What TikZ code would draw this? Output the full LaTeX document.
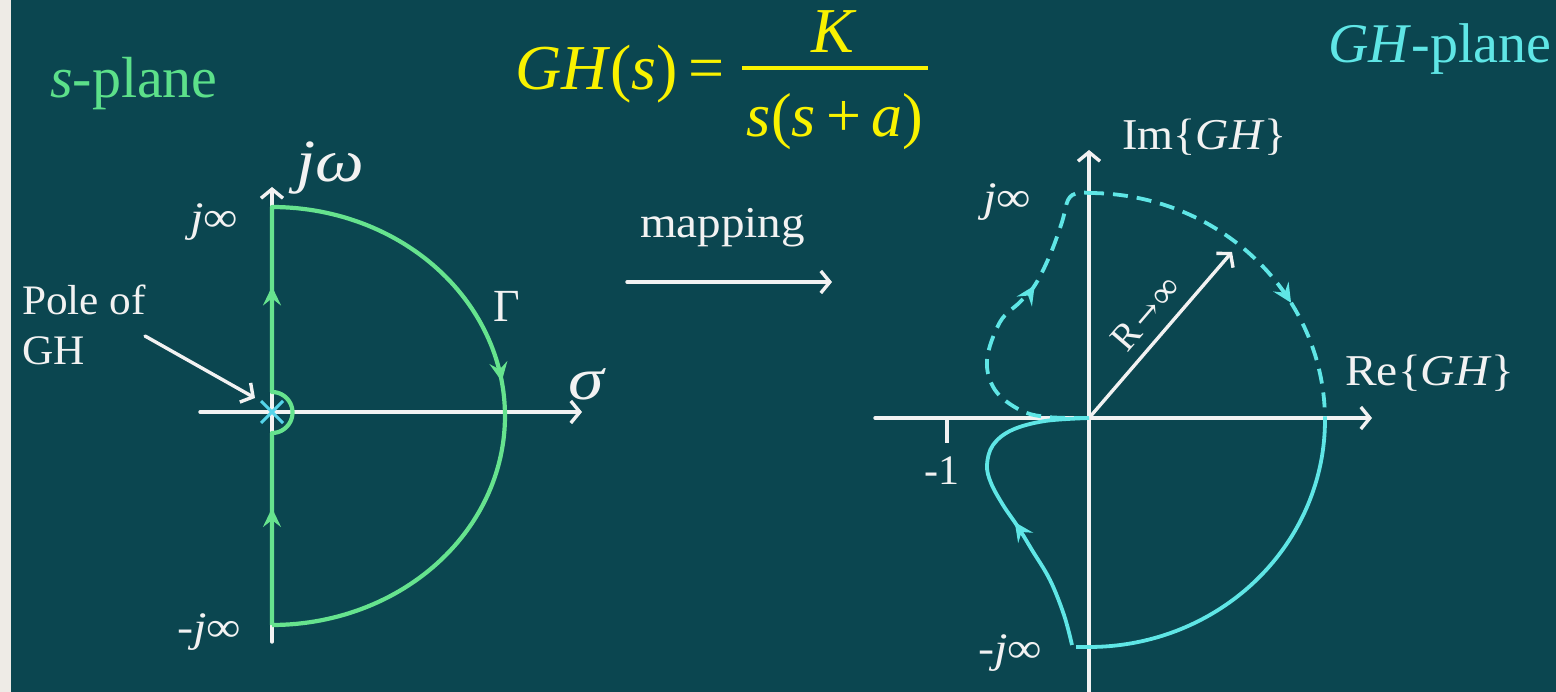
\documentclass[tikz,border=0pt]{standalone}
\usepackage{fontspec}
\setmainfont{Liberation Serif}
\newfontfamily\arrowfont{DejaVu Serif}
\usetikzlibrary{arrows.meta,decorations.markings}
\definecolor{bgc}{HTML}{0B4650}
\definecolor{edgec}{HTML}{EEEBE6}
\definecolor{greenc}{HTML}{66E38E}
\definecolor{gtext}{HTML}{5CE08A}
\definecolor{cyanc}{HTML}{5FE6E6}
\definecolor{crossc}{HTML}{55D5EA}
\definecolor{yellowc}{HTML}{F9F200}
\definecolor{whitec}{HTML}{F2F2F2}
\newcommand{\fs}[1]{\fontsize{#1}{#1}\selectfont}
\newcommand{\hs}[2]{\scalebox{#1}[1]{#2}}
\tikzset{
  axisline/.style={draw=whitec, line width=3.4pt, line cap=round,
    -{Straight Barb[length=9pt,width=22pt,line width=3.4pt]}},
  plainline/.style={draw=whitec, line width=3.4pt},
  gpath/.style={draw=greenc, line width=4.2pt, line join=round},
  cpath/.style={draw=cyanc, line width=3.8pt, line join=round},
  cdash/.style={cpath, dash pattern=on 15pt off 9pt},
  gmarkat/.style={postaction={decorate,decoration={markings,
    mark=at position #1 with {\arrow[greenc]{Stealth[length=19pt,width=18pt,inset=7pt]}}}}},
  cmarkat/.style={postaction={decorate,decoration={markings,
    mark=at position #1 with {\arrow[cyanc]{Stealth[length=19pt,width=18pt,inset=7pt]}}}}},
  lbl/.style={inner sep=0pt, text=whitec},
}
\begin{document}
\begin{tikzpicture}[x=1pt,y=-1pt]
\useasboundingbox (0,0) rectangle (1556,692);
\fill[edgec] (0,0) rectangle (11,692);
\fill[bgc] (11,0) rectangle (1556,692);

% ---------- titles ----------
\node[lbl, anchor=base west, text=gtext] (splane) at (50,98) {\fs{58}\textit{s}-plane};
\node[lbl, anchor=base west, text=cyanc] (ghplane) at (1328,63) {\fs{56}\textit{GH}-plane};

% formula
\node[lbl, anchor=base west, text=yellowc] (ghs) at (515,90) {\fs{64}\textit{GH}(\textit{s})\,=};
\coordinate (barL) at (742,68);
\coordinate (barR) at (928,68);
\draw[yellowc, line width=4pt] (barL) -- (barR);
\node[lbl, anchor=base, text=yellowc] (num) at (834,53) {\fs{64}\textit{K}};
\node[lbl, anchor=base, text=yellowc] (den) at (835,137) {\fs{62}\textit{s}(\textit{s}\,+\,\textit{a})};

% mapping
\node[lbl, anchor=base west] (mapping) at (640,238) {\fs{44}\hs{1.07}{mapping}};
\coordinate (mapL) at (627,282);
\coordinate (mapR) at (832,282);
\draw[axisline] (mapL) -- (mapR);

% ---------- s-plane ----------
\coordinate (O1) at (272,412);
\coordinate (jwbot) at (272,642);
\coordinate (jwtop) at (272,187);
\coordinate (sigL) at (200,412);
\coordinate (sigR) at (582,412);
\draw[axisline] (sigL) -- (sigR);
\draw[axisline] (jwbot) -- (jwtop);

% Nyquist contour
\draw[gpath, gmarkat=117pt, gmarkat=362pt, gmarkat=754pt]
  (272,625) -- (272,433)
  -- plot[domain=90:-90, samples=40] ({272+20.5*cos(\x)},{412.5+20.5*sin(\x)})
  -- (272,207)
  -- plot[domain=-90:90, samples=120] ({272+233*cos(\x)},{416+209*sin(\x)});

% pole cross
\draw[crossc, line width=3pt] (261,401) -- (283,423) (261,423) -- (283,401);

\node[lbl, anchor=base west] (jw) at (296,182) {\fs{60}\hs{1.15}{\textit{jω}}};
\node[lbl, anchor=base west] (jinf1) at (190,232) {\fs{42}\hs{1.15}{\textit{j}∞}};
\node[lbl, anchor=base west] (mjinf1) at (177,641) {\fs{42}\hs{1.15}{-\textit{j}∞}};
\node[lbl, anchor=base west] (gamma) at (493,322) {\fs{46}Γ};
\node[lbl, anchor=base west] (sigma) at (568,400) {\fs{60}\hs{1.2}{\textit{σ}}};

\node[lbl, anchor=base west] (pole1) at (22,315) {\fs{42}\hs{1.03}{Pole of}};
\node[lbl, anchor=base west] (pole2) at (22,365) {\fs{42}\hs{1.03}{GH}};
\coordinate (poleA) at (145,336);
\coordinate (poleB) at (255,398);
\draw[axisline] (poleA) -- (poleB);

% ---------- GH-plane ----------
\coordinate (O2) at (1089,418);
\coordinate (reL) at (875,418);
\coordinate (reR) at (1372,418);
\coordinate (imB) at (1089,692);
\coordinate (imT) at (1089,150);
\draw[axisline] (reL) -- (reR);
\draw[axisline] (imB) -- (imT);
\coordinate (tickA) at (947,418);
\coordinate (tickB) at (947,443);
\draw[plainline] (tickA) -- (tickB);
\node[lbl, anchor=base] (m1) at (942,484) {\fs{42}-1};

\coordinate (Rtip) at (1232,252);
\draw[axisline] (O2) -- (Rtip);
\node[lbl, rotate=49.3] (Rinf) at (1146,313) {\fs{38}R\hspace{3pt}{\arrowfont\fontsize{32}{32}\selectfont →}\hspace{3pt}∞};

\node[lbl, anchor=base west] (im) at (1122,150) {\fs{44}\hs{1.05}{Im\{\textit{GH}\}}};
\node[lbl, anchor=base west] (re) at (1345,386) {\fs{44}\hs{1.08}{Re\{\textit{GH}\}}};
\node[lbl, anchor=base west] (jinf2) at (983,212) {\fs{42}\hs{1.15}{\textit{j}∞}};
\node[lbl, anchor=base west] (mjinf2) at (978,662) {\fs{42}\hs{1.15}{-\textit{j}∞}};

% dashed upper branch
\draw[cdash, cmarkat=0.66]
  plot[smooth, tension=0.6] coordinates {(1089,418) (1047,417) (1020,410) (995,390) (987,360) (1000,322) (1020,302) (1035,285) (1050,255) (1062,222) (1068,200) (1077,193) (1089,193)};
\draw[cdash, cmarkat=0.66]
  plot[domain=-90:0, samples=80] ({1089+236*cos(\x)},{420+227*sin(\x)});

% solid lower branch
\draw[cpath, cmarkat=0.42]
  plot[smooth, tension=0.6] coordinates {(1072,645) (1064,615) (1050,580) (1032,550) (1018,527) (1003,505) (991,483) (987,465) (993,445) (1012,430) (1045,421) (1089,418)};
\draw[cpath] (1076,647) -- plot[domain=90:0, samples=80] ({1089+236*cos(\x)},{420+227*sin(\x)});
\end{tikzpicture}
\end{document}
